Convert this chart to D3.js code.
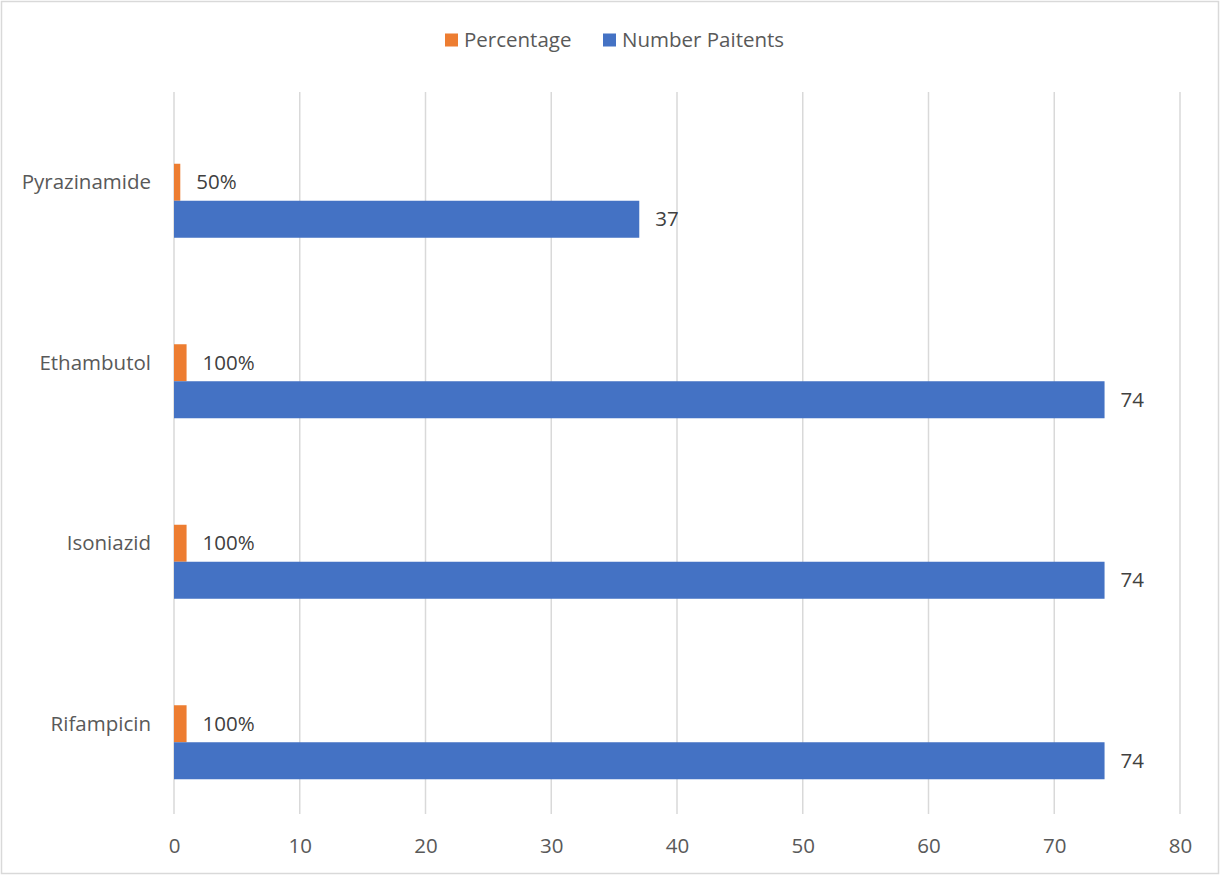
<!DOCTYPE html>
<html>
<head>
<meta charset="utf-8">
<script src="https://cdn.jsdelivr.net/npm/d3@7"></script>
<style>
  html, body { margin: 0; padding: 0; background: #fff; }
  svg { display: block; font-family: "Open Sans", "Liberation Sans", sans-serif; }
</style>
</head>
<body>
<svg id="chart" width="1220" height="875"></svg>
<script>
// Drugs, listed top to bottom
const drugs = ["Pyrazinamide", "Ethambutol", "Isoniazid", "Rifampicin"];
// Share of patients (1 = 100%)
const percentage = [0.5, 1, 1, 1];
// Number of patients
const numberPatients = [37, 74, 74, 74];
// Value axis ticks
const xTicks = [0, 10, 20, 30, 40, 50, 60, 70, 80];

const series = [
  { name: "Percentage", values: percentage, color: "#ED7D31", fmt: d3.format(".0%") },
  { name: "Number Paitents", values: numberPatients, color: "#4472C4", fmt: d3.format("d") }
];

const W = 1220, H = 875;
const margin = { left: 174, right: 40, top: 92, bottom: 61 };
const textColor = "#595959";
const fontSize = 20.5;

const svg = d3.select("#chart");

// outer frame
svg.append("rect")
  .attr("x", 1.5).attr("y", 1.5)
  .attr("width", W - 3).attr("height", H - 3)
  .attr("fill", "#fff").attr("stroke", "#D9D9D9").attr("stroke-width", 1.5);

const x = d3.scaleLinear().domain([0, 80]).range([margin.left, W - margin.right]);
const y = d3.scaleBand().domain(drugs).range([margin.top, H - margin.bottom]).paddingInner(0).paddingOuter(0);
const barH = y.bandwidth() * 0.205;
// three slots per category; the first one stays empty
const inner = d3.scaleBand().domain(["_empty", ...series.map(s => s.name)])
  .range([y.bandwidth() / 2 - 1.5 * barH, y.bandwidth() / 2 + 1.5 * barH]);

// vertical gridlines
svg.append("g").selectAll("line").data(xTicks).join("line")
  .attr("x1", d => x(d)).attr("x2", d => x(d))
  .attr("y1", margin.top).attr("y2", H - margin.bottom)
  .attr("stroke", "#D9D9D9").attr("stroke-width", 1.5);

// x axis labels
const xAxis = d3.axisBottom(x).tickValues(xTicks).tickSize(0).tickPadding(24);
const gx = svg.append("g").attr("transform", `translate(0,${H - margin.bottom})`).call(xAxis);
gx.select(".domain").remove();
gx.selectAll("text").attr("fill", textColor).attr("font-size", fontSize)
  .attr("font-family", "\"Open Sans\", \"Liberation Sans\", sans-serif");

// bars
const groups = svg.append("g").selectAll("g").data(drugs).join("g")
  .attr("transform", d => `translate(0,${y(d)})`);

series.forEach(s => {
  groups.append("rect")
    .attr("x", x(0))
    .attr("y", inner(s.name))
    .attr("width", (d, i) => x(s.values[i]) - x(0))
    .attr("height", inner.bandwidth())
    .attr("fill", s.color);

  groups.append("text")
    .attr("x", (d, i) => x(s.values[i]) + 16)
    .attr("y", inner(s.name) + inner.bandwidth() / 2)
    .attr("dy", "0.35em")
    .attr("fill", "#404040")
    .attr("font-size", fontSize)
    .text((d, i) => s.fmt(s.values[i]));
});

// category labels at band centre
groups.append("text")
  .attr("x", margin.left - 23)
  .attr("y", y.bandwidth() / 2)
  .attr("dy", "0.35em")
  .attr("text-anchor", "end")
  .attr("fill", textColor)
  .attr("font-size", fontSize)
  .text(d => d);

// legend
const legend = svg.append("g").attr("transform", "translate(445,40)");
const items = [{ s: series[0], x: 0 }, { s: series[1], x: 158 }];
items.forEach(it => {
  legend.append("rect").attr("x", it.x).attr("y", -6.5).attr("width", 13).attr("height", 13).attr("fill", it.s.color);
  legend.append("text").attr("x", it.x + 19).attr("y", 0).attr("dy", "0.35em")
    .attr("fill", textColor).attr("font-size", fontSize).text(it.s.name);
});
</script>
</body>
</html>
